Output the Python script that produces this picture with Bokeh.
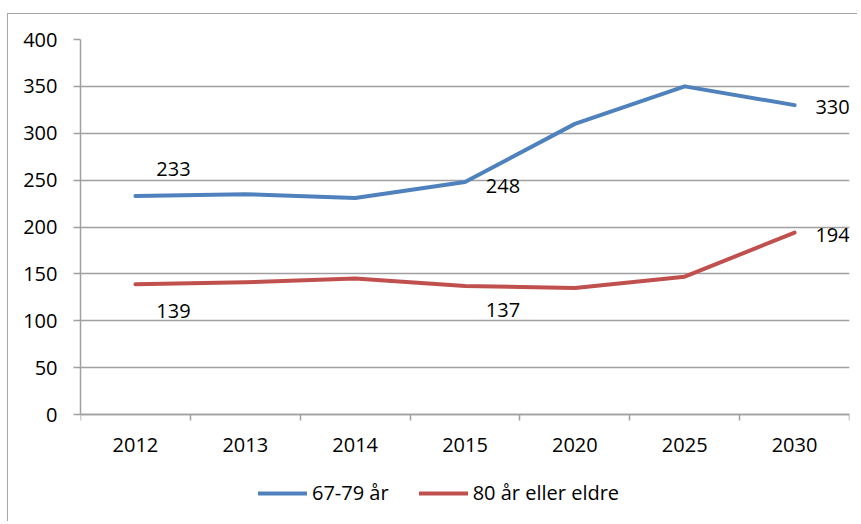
from bokeh.plotting import figure
from bokeh.models import FixedTicker, Legend, LegendItem, ColumnDataSource
from bokeh.core.properties import value
from bokeh.embed import file_html
from bokeh.resources import INLINE

categories = ["2012", "2013", "2014", "2015", "2020", "2025", "2030"]
series_67_79 = [233, 235, 231, 248, 310, 350, 330]
series_80 = [139, 141, 145, 137, 135, 147, 194]
y_ticks = [0, 50, 100, 150, 200, 250, 300, 350, 400]

# points that carry a data label (category indices)
labels_67_79_idx = [0, 3, 6]
labels_80_idx = [0, 3, 6]

FONT = "Open Sans"
FS = "20px"
BLUE = "#4F81BD"
RED = "#C0504D"
GRID = "#a0a0a0"

W, H = 850, 508
MB_L, MB_R, MB_T, MB_B = 72, 9, 25, 0
frame_h = H - MB_T - MB_B
px_per_unit = 375 / 400.0          # plot area: 400 units over 375 px
y_start = 400 - frame_h / px_per_unit

xs = [i + 0.5 for i in range(len(categories))]

p = figure(width=W, height=H, output_backend="svg", toolbar_location=None,
           x_range=(0, len(categories)), y_range=(y_start, 400),
           min_border_left=MB_L, min_border_right=MB_R, min_border_top=MB_T, min_border_bottom=MB_B)
p.margin = (13, 0, 0, 7)
p.styles = {"border-left": "1px solid #a6a6a6", "border-top": "1px solid #a6a6a6"}
p.outline_line_color = None
p.background_fill_color = "white"
p.border_fill_color = "white"

# x axis sits on y = 0 inside the frame; ticks at category boundaries
p.xaxis.fixed_location = 0
p.xaxis.ticker = FixedTicker(ticks=xs, minor_ticks=list(range(len(categories) + 1)))
p.xaxis.major_label_overrides = {x: c for x, c in zip(xs, categories)}
p.xaxis.major_tick_out = 0
p.xaxis.major_tick_in = 0
p.xaxis.minor_tick_out = 6
p.xaxis.minor_tick_in = 0
p.xaxis.minor_tick_line_color = GRID
p.xaxis.minor_tick_line_width = 1.5
p.xaxis.axis_line_color = GRID
p.xaxis.major_label_standoff = 17

p.yaxis.bounds = (0, 400)
p.yaxis.ticker = FixedTicker(ticks=y_ticks)
p.yaxis.minor_tick_line_color = None
p.yaxis.major_tick_out = 7
p.yaxis.major_tick_in = 0
p.yaxis.major_tick_line_color = GRID
p.yaxis.major_tick_line_width = 1.5
p.yaxis.axis_line_color = GRID
p.yaxis.major_label_standoff = 16
for ax in (p.xaxis, p.yaxis):
    ax.major_label_text_font = FONT
    ax.major_label_text_font_size = FS
    ax.major_label_text_color = "#000000"
    ax.axis_line_width = 1.5

p.xgrid.grid_line_color = None
p.ygrid.ticker = FixedTicker(ticks=y_ticks)
p.ygrid.grid_line_color = GRID
p.ygrid.grid_line_width = 1.5

l1 = p.line(xs, series_67_79, line_color=BLUE, line_width=4, line_join="round", line_cap="round")
l2 = p.line(xs, series_80, line_color=RED, line_width=4, line_join="round", line_cap="round")

# data labels
y_offs_1 = [-27, 4, 2]
y_offs_2 = [27, 24, 2]
src1 = ColumnDataSource(dict(
    x=[xs[i] for i in labels_67_79_idx],
    y=[series_67_79[i] for i in labels_67_79_idx],
    t=[str(series_67_79[i]) for i in labels_67_79_idx],
    yo=y_offs_1))
src2 = ColumnDataSource(dict(
    x=[xs[i] for i in labels_80_idx],
    y=[series_80[i] for i in labels_80_idx],
    t=[str(series_80[i]) for i in labels_80_idx],
    yo=y_offs_2))
for src in (src1, src2):
    p.text(x="x", y="y", text="t", source=src, x_offset=38, y_offset="yo",
           text_font=value(FONT), text_font_size=FS, text_color="#000000",
           text_align="center", text_baseline="middle")

legend = Legend(items=[LegendItem(label="67-79 år", renderers=[l1]),
                       LegendItem(label="80 år eller eldre", renderers=[l2])],
                orientation="horizontal", location=(178, 16),
                glyph_width=49, glyph_height=20, label_height=20, label_standoff=5, spacing=30,
                padding=0, margin=0, border_line_color=None, background_fill_alpha=0,
                label_text_font=FONT, label_text_font_size=FS, label_text_color="#000000")
p.add_layout(legend, "center")

open("out.html", "w").write(file_html(p, INLINE))
